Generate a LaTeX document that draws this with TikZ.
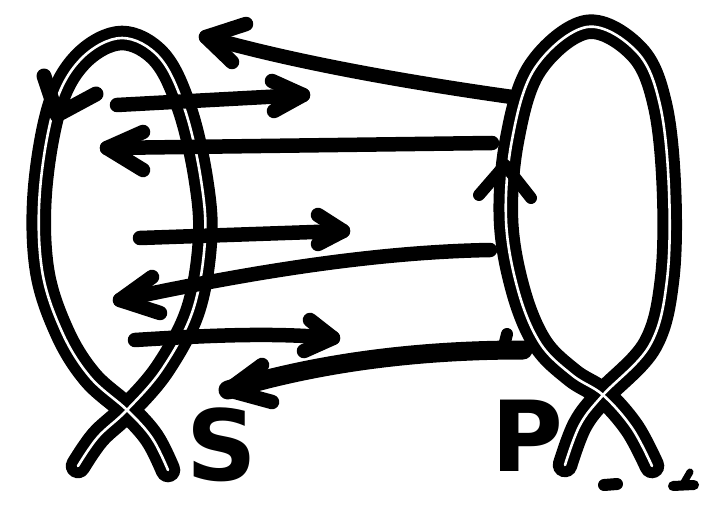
\documentclass[tikz,border=0pt]{standalone}
\usepackage{fontspec}
\newfontfamily\lblfont{DejaVu Sans}
\begin{document}
\begin{tikzpicture}[x=1pt,y=-1pt,
  loopline/.style={draw=black, line width=11pt, double=white, double distance=2.6pt, line cap=round, line join=round},
  arr/.style={draw=black, line width=14.5pt, line cap=round, line join=round},
  lbl/.style={font=\lblfont\bfseries\fontsize{98}{98}\selectfont, inner sep=0pt},
  blot/.style={draw=black, line cap=round, line join=round}
]
\useasboundingbox (0,0) rectangle (707,505);
\fill[white] (0,0) rectangle (707,505);

% loop S
\draw[loopline] plot[smooth, tension=0.6] coordinates {(168,470) (152,438) (127,410) (90,377) (62,332) (42,270) (40,190) (55,105) (82,58) (122,38) (160,58) (185,110) (201,180) (205,240) (193,310) (163,368) (127,410) (98,437) (78,466)};
% loop P
\draw[loopline] plot[smooth, tension=0.6] coordinates {(652,466) (632,428) (603,395) (572,375) (540,343) (518,290) (506,220) (512,140) (535,68) (587,27) (637,52) (660,105) (669,190) (667,280) (650,345) (603,395) (580,425) (565,465)};

% arrowheads on the loops
\coordinate (sh) at (57,115);
\draw[arr, line width=15pt] (44,76) -- (sh) -- (96,94);
\coordinate (ph) at (505,165);
\draw[arr, line width=12pt] (479,195) -- (ph) -- (531,198);

% arrows between the loops
\coordinate (a1s) at (512,97);  \coordinate (a1t) at (206,37);
\draw[arr] (a1s) .. controls (420,84) and (300,64) .. (a1t);
\draw[arr] (246,24) -- (a1t) -- (232,62);

\coordinate (a2s) at (117,105); \coordinate (a2t) at (303,95);
\draw[arr] (a2s) -- (a2t);
\draw[arr] (272,81) -- (a2t) -- (274,111);

\coordinate (a3s) at (492,143); \coordinate (a3t) at (107,148);
\draw[arr] (a3s) -- (a3t);
\draw[arr] (143,132) -- (a3t) -- (143,170);

\coordinate (a4s) at (140,238); \coordinate (a4t) at (343,231);
\draw[arr] (a4s) -- (a4t);
\draw[arr] (318,215) -- (a4t) -- (318,244);

\coordinate (a5s) at (490,250); \coordinate (a5t) at (120,300);
\draw[arr] (a5s) .. controls (380,252) and (260,270) .. (a5t);
\draw[arr] (152,277) -- (a5t) -- (160,313);

\coordinate (a6s) at (135,340); \coordinate (a6t) at (333,338);
\draw[arr] (a6s) .. controls (200,336) and (270,332) .. (a6t);
\draw[arr] (310,320) -- (a6t) -- (304,351);

\coordinate (a7s) at (523,350); \coordinate (a7t) at (228,390);
\draw[arr, line width=19pt] (a7s) .. controls (420,350) and (320,362) .. (a7t);
\draw[arr] (262,365) -- (a7t) -- (272,402);
\coordinate (a7h) at (507,334);
\draw[arr, line width=12pt] (503,350) -- (a7h);

% labels
\node[lbl] (S) at (222,445) {S};
\node[lbl] (P) at (527,436) {P};

% small marks
\draw[blot, line width=12pt] (604,485) -- (617,484);
\draw[blot, line width=10pt] (673,486) -- (694,485);
\draw[blot, line width=7pt] (683,484) -- (690,472);
\end{tikzpicture}
\end{document}
